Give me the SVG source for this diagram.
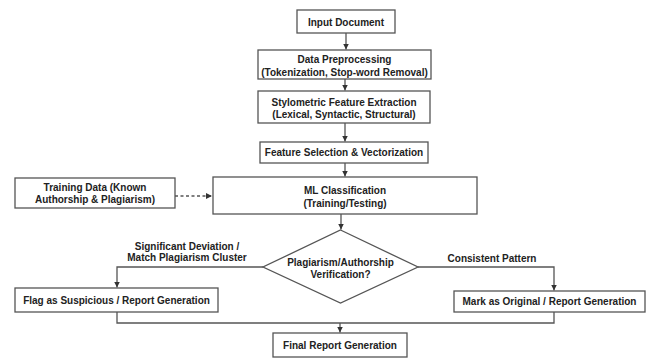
<svg xmlns="http://www.w3.org/2000/svg" width="658" height="358" viewBox="0 0 658 358">
<defs>
<style>
.box{fill:#fff;stroke:#555;stroke-width:1.3}
.t{font-family:"Liberation Sans",Arial,sans-serif;font-weight:bold;font-size:10px;fill:#222;text-anchor:middle}
.c{fill:none;stroke:#555;stroke-width:1.3}
.d{stroke-dasharray:3,2.5}
</style>
<marker id="ah" markerWidth="8" markerHeight="8" refX="6" refY="3" orient="auto" markerUnits="userSpaceOnUse">
<path d="M0,0 L6,3 L0,6 Z" fill="#333"/>
</marker>
</defs>
<rect width="658" height="358" fill="#fff"/>
<g id="connectors">
<line class="c" x1="346" y1="33" x2="346" y2="49.5" marker-end="url(#ah)"/>
<line class="c" x1="345" y1="79" x2="345" y2="90.5" marker-end="url(#ah)"/>
<line class="c" x1="345" y1="123" x2="345" y2="141.5" marker-end="url(#ah)"/>
<line class="c" x1="345" y1="163" x2="345" y2="176.5" marker-end="url(#ah)"/>
<line class="c d" x1="175" y1="196" x2="212" y2="196" marker-end="url(#ah)"/>
<line class="c" x1="341" y1="214" x2="341" y2="229.5" marker-end="url(#ah)"/>
<polyline class="c" points="263,267 117,267 117,287.5" marker-end="url(#ah)"/>
<polyline class="c" points="418,267 554,267 554,290.5" marker-end="url(#ah)"/>
<polyline class="c" points="117,312 117,323 554,323 554,312"/>
<line class="c" x1="340" y1="323" x2="340" y2="332.5" marker-end="url(#ah)"/>
</g>
<g id="input">
<rect class="box" x="297" y="10" width="98" height="23"/>
<text class="t" x="346" y="25.5">Input Document</text>
</g>
<g id="preprocessing">
<rect class="box" x="258" y="50" width="173" height="29"/>
<text class="t" x="344.5" y="62.5">Data Preprocessing</text>
<text class="t" x="344.5" y="75.5">(Tokenization, Stop-word Removal)</text>
</g>
<g id="stylometric">
<rect class="box" x="258" y="91" width="172" height="32"/>
<text class="t" x="344" y="105.5">Stylometric Feature Extraction</text>
<text class="t" x="344" y="117.5">(Lexical, Syntactic, Structural)</text>
</g>
<g id="selection">
<rect class="box" x="260" y="142" width="168" height="21"/>
<text class="t" x="344" y="155.5">Feature Selection &amp; Vectorization</text>
</g>
<g id="training">
<rect class="box" x="15" y="178" width="160" height="30"/>
<text class="t" x="95" y="190.5">Training Data (Known</text>
<text class="t" x="95" y="203">Authorship &amp; Plagiarism)</text>
</g>
<g id="ml">
<rect class="box" x="213" y="177" width="264" height="37"/>
<text class="t" x="345" y="193.5">ML Classification</text>
<text class="t" x="345" y="206.5">(Training/Testing)</text>
</g>
<g id="decision">
<polygon class="box" points="340.5,230 418,267 340.5,303 263,267"/>
<text class="t" x="340.5" y="265.5">Plagiarism/Authorship</text>
<text class="t" x="340.5" y="277.5">Verification?</text>
</g>
<g id="labels">
<text class="t" x="187" y="249.5">Significant Deviation /</text>
<text class="t" x="187" y="261">Match Plagiarism Cluster</text>
<text class="t" x="492" y="261.5">Consistent Pattern</text>
</g>
<g id="flag">
<rect class="box" x="15" y="288" width="203" height="24"/>
<text class="t" x="116.5" y="303.5">Flag as Suspicious / Report Generation</text>
</g>
<g id="mark">
<rect class="box" x="454" y="291" width="191" height="21"/>
<text class="t" x="549.5" y="305">Mark as Original / Report Generation</text>
</g>
<g id="final">
<rect class="box" x="273" y="333" width="134" height="24"/>
<text class="t" x="340" y="348.5">Final Report Generation</text>
</g>
</svg>
